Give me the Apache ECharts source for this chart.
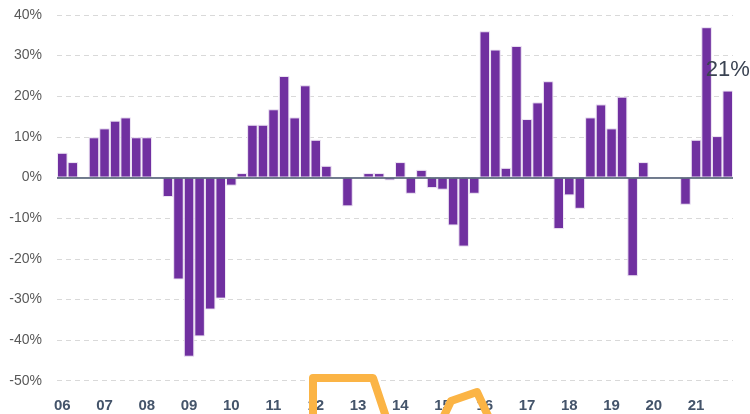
<!DOCTYPE html>
<html>
<head>
<meta charset="utf-8">
<script src="https://cdn.jsdelivr.net/npm/echarts@6/dist/echarts.min.js"></script>
<style>html,body{margin:0;padding:0;background:#fff;}#c{width:750px;height:414px;}</style>
</head>
<body>
<div id="c"></div>
<script>
var years = ['06','07','08','09','10','11','12','13','14','15','16','17','18','19','20','21'];
var quarters = ['Q1','Q2','Q3','Q4'];
var values = [
  6.1, 3.8, 0, 9.9,
  12.1, 14.0, 14.8, 9.9,
  9.9, 0, -4.8, -25.1,
  -44.1, -39.1, -32.5, -29.8,
  -2.0, 1.1, 13.0, 13.0,
  16.8, 25.0, 14.8, 22.7,
  9.3, 2.9, 0, -7.1,
  0, 1.1, 1.1, -0.7,
  3.8, -4.0, 1.9, -2.6,
  -3.0, -11.8, -17.0, -4.0,
  36.0, 31.5, 2.4, 32.4,
  14.4, 18.5, 23.7, -12.7,
  -4.4, -7.7, 14.8, 18.0,
  12.1, 19.9, -24.3, 3.8,
  0, 0, 0, -6.7,
  9.3, 37.0, 10.2, 21.4
];
var yTicks = {min: -50, max: 40, interval: 10};

var categories = [];
years.forEach(function (y) { quarters.forEach(function (q) { categories.push(y + q); }); });

var seriesData = values.map(function (v, i) {
  if (i === values.length - 1) {
    return {
      value: v,
      label: {
        show: true, position: 'top', distance: 10,
        formatter: Math.round(v) + '%',
        fontSize: 22, color: '#3a4352', fontFamily: 'Liberation Sans, Arial, sans-serif'
      }
    };
  }
  return v;
});

var chart = echarts.init(document.getElementById('c'), null, {renderer: 'canvas'});
chart.setOption({
  animation: false,
  backgroundColor: '#ffffff',
  grid: {left: 57, right: 17, top: 15, bottom: 33.3, containLabel: false},
  xAxis: {
    type: 'category',
    data: categories,
    axisLine: {show: false, onZero: false},
    axisTick: {show: false},
    splitLine: {show: false},
    axisLabel: {
      interval: 0,
      margin: 18,
      fontSize: 15,
      fontWeight: 'bold',
      color: '#44546a',
      fontFamily: 'Liberation Sans, Arial, sans-serif',
      formatter: function (val) { return val.slice(2) === 'Q1' ? val.slice(0, 2) : ''; }
    }
  },
  yAxis: {
    type: 'value',
    min: yTicks.min, max: yTicks.max, interval: yTicks.interval,
    axisLine: {show: false},
    axisTick: {show: false},
    axisLabel: {
      margin: 15, fontSize: 14, color: '#595959',
      fontFamily: 'Liberation Sans, Arial, sans-serif',
      formatter: '{value}%'
    },
    splitLine: {show: true, lineStyle: {color: '#d9d9d9', type: [5, 4], width: 1}}
  },
  series: [{
    type: 'bar',
    data: seriesData,
    barCategoryGap: '0%',
    itemStyle: {color: '#7030a0', borderColor: '#efe8f5', borderWidth: 1},
    markLine: {
      silent: true,
      symbol: 'none',
      label: {show: false},
      lineStyle: {color: '#44546a', type: 'solid', width: 1.5},
      data: [{yAxis: 0}]
    }
  }],
  graphic: [
    {
      type: 'polyline', z: 100,
      shape: {points: [[313, 420], [313, 378], [373, 378], [387, 420]]},
      style: {stroke: '#fbb445', lineWidth: 8, fill: null, lineJoin: 'round', lineCap: 'round'}
    },
    {
      type: 'polyline', z: 100,
      shape: {points: [[442, 420], [451, 401], [477, 392], [490, 420]]},
      style: {stroke: '#fbb445', lineWidth: 8, fill: null, lineJoin: 'round', lineCap: 'round'}
    }
  ]
});
</script>
</body>
</html>
